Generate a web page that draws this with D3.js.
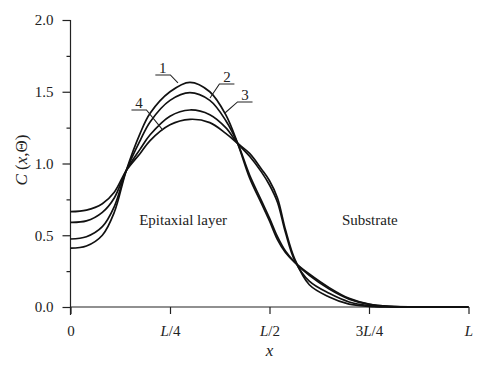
<!DOCTYPE html>
<html>
<head>
<meta charset="utf-8">
<script src="https://cdn.jsdelivr.net/npm/d3@7"></script>
<style>
  body { margin: 0; background: #fff; }
  svg { display: block; font-family: 'Liberation Serif', 'Times New Roman', serif; }
</style>
</head>
<body>
<svg id="chart" width="500" height="371"></svg>
<script>
// x positions as a fraction of L
var xs = [0, 0.04, 0.08, 0.11, 0.14, 0.175, 0.2, 0.25, 0.3, 0.35, 0.39, 0.42,
  0.45, 0.48, 0.5, 0.52, 0.54, 0.564, 0.6, 0.65, 0.7, 0.75, 0.8, 0.9, 1.0]

var curve1 = [0.41, 0.425, 0.50, 0.66, 0.95, 1.21, 1.35, 1.50, 1.566, 1.50, 1.34, 1.14,
  0.90, 0.72, 0.60, 0.47, 0.38, 0.31, 0.23, 0.135, 0.06, 0.02, 0.005, 0, 0]
var curve2 = [0.474, 0.49, 0.56, 0.70, 0.95, 1.16, 1.29, 1.44, 1.494, 1.44, 1.30, 1.14,
  0.92, 0.74, 0.62, 0.49, 0.39, 0.31, 0.22, 0.125, 0.055, 0.018, 0.004, 0, 0]
var curve3 = [0.59, 0.60, 0.66, 0.76, 0.95, 1.10, 1.20, 1.33, 1.373, 1.34, 1.25, 1.14,
  1.05, 0.94, 0.85, 0.73, 0.52, 0.32, 0.18, 0.095, 0.035, 0.01, 0.002, 0, 0]
var curve4 = [0.664, 0.675, 0.72, 0.80, 0.95, 1.07, 1.16, 1.27, 1.308, 1.285, 1.21, 1.14,
  1.07, 0.96, 0.88, 0.76, 0.54, 0.33, 0.155, 0.07, 0.02, 0.005, 0.001, 0, 0]

var series = [curve1, curve2, curve3, curve4]

var yTicks = [0, 0.5, 1.0, 1.5, 2.0]
var yMinorTicks = [0.25, 0.75, 1.25, 1.75]
var xTicks = [0, 0.25, 0.5, 0.75, 1]
var xTickLabels = ['0', 'L/4', 'L/2', '3L/4', 'L']

// curve numbers: text spot and where the leader meets the curve (data units)
var callouts = [
  { name: '1', t: 0.232, c: 1.631, endT: 0.270, endC: 1.561, side: 1 },
  { name: '2', t: 0.393, c: 1.568, endT: 0.3505, endC: 1.456, side: -1 },
  { name: '3', t: 0.4385, c: 1.443, endT: 0.388, endC: 1.352, side: -1 },
  { name: '4', t: 0.172, c: 1.387, endT: 0.232, endC: 1.233, side: 1 }
]

var regions = [
  { text: 'Epitaxial layer', t: 0.283, c: 0.571 },
  { text: 'Substrate', t: 0.752, c: 0.571 }
]

var svg = d3.select('#chart')
var ink = '#222'

var x = d3.scaleLinear().domain([0, 1]).range([70.5, 468.5])
var y = d3.scaleLinear().domain([0, 2]).range([307, 20])

// y axis
var yAxis = svg.append('g')
  .attr('transform', 'translate(' + x(0) + ',0)')
  .call(d3.axisLeft(y).tickValues(yTicks).tickSize(8).tickPadding(9).tickFormat(d3.format('.1f')))
var yMinor = svg.append('g')
  .attr('transform', 'translate(' + x(0) + ',0)')
  .call(d3.axisLeft(y).tickValues(yMinorTicks).tickSize(4).tickFormat(''))

// x axis
var xAxis = svg.append('g')
  .attr('transform', 'translate(0,' + y(0) + ')')
  .call(d3.axisBottom(x).tickValues(xTicks).tickSize(7).tickPadding(11).tickFormat(''))

svg.selectAll('.domain').remove()
;[yAxis, yMinor, xAxis].forEach(function (g) {
  g.attr('font-family', null).attr('font-size', null)
})
svg.selectAll('.tick line').attr('stroke', ink).attr('stroke-width', 1.2)
svg.selectAll('.tick text').attr('fill', ink).attr('font-size', 15)

xAxis.selectAll('.tick').each(function (d, i) {
  var txt = d3.select(this).select('text')
  var parts = xTickLabels[i].split(/(L)/).filter(function (s) { return s !== '' })
  parts.forEach(function (p) {
    txt.append('tspan')
      .attr('font-style', p === 'L' ? 'italic' : null)
      .text(p)
  })
})

svg.append('line')
  .attr('x1', x(0)).attr('x2', x(0))
  .attr('y1', y(2)).attr('y2', y(0) + 8)
  .attr('stroke', ink).attr('stroke-width', 1.2)
svg.append('line')
  .attr('x1', x(0)).attr('x2', x(1))
  .attr('y1', y(0)).attr('y2', y(0))
  .attr('stroke', ink).attr('stroke-width', 1.2)

// axis titles
svg.append('text')
  .attr('x', x(0.5)).attr('y', 356)
  .attr('text-anchor', 'middle')
  .attr('font-size', 17).attr('font-style', 'italic').attr('fill', ink)
  .text('x')

var yTitle = svg.append('text')
  .attr('transform', 'translate(27,' + 160 + ') rotate(-90)')
  .attr('text-anchor', 'middle')
  .attr('font-size', 17).attr('fill', ink)
yTitle.append('tspan').attr('font-style', 'italic').text('C')
yTitle.append('tspan').text(' (')
yTitle.append('tspan').attr('font-style', 'italic').text('x')
yTitle.append('tspan').text(',\u0398)')

// curves
var line = d3.line()
  .x(function (d, i) { return x(xs[i]) })
  .y(function (d) { return y(d) })
  .curve(d3.curveCatmullRom.alpha(0.5))

svg.append('g')
  .selectAll('path')
  .data(series)
  .join('path')
  .attr('d', line)
  .attr('fill', 'none')
  .attr('stroke', '#111')
  .attr('stroke-width', 1.7)

// callouts
var co = svg.append('g').selectAll('g').data(callouts).join('g')
co.append('text')
  .attr('x', function (d) { return x(d.t) })
  .attr('y', function (d) { return y(d.c) })
  .attr('text-anchor', 'middle')
  .attr('font-size', 15).attr('fill', ink)
  .text(function (d) { return d.name })
co.append('path')
  .attr('fill', 'none').attr('stroke', ink).attr('stroke-width', 1.1)
  .attr('d', function (d) {
    var cx = x(d.t)
    var by = y(d.c) + 2
    var a = cx - 7.5 * d.side
    var b = cx + 7.5 * d.side
    return 'M' + a + ',' + by + 'L' + b + ',' + by + 'L' + x(d.endT) + ',' + y(d.endC)
  })

svg.append('g').selectAll('text').data(regions).join('text')
  .attr('x', function (d) { return x(d.t) })
  .attr('y', function (d) { return y(d.c) })
  .attr('text-anchor', 'middle')
  .attr('font-size', 15).attr('fill', ink)
  .text(function (d) { return d.text })
</script>
</body>
</html>
